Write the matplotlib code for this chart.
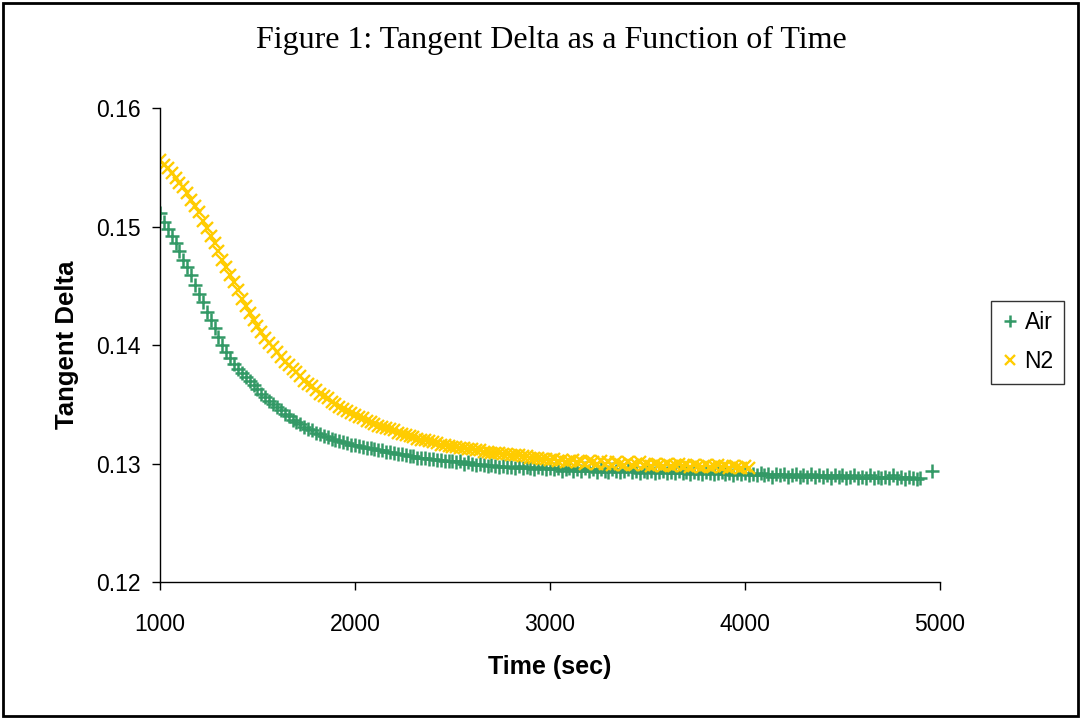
import matplotlib
matplotlib.use("Agg")
from matplotlib import pyplot as plt
from matplotlib.patches import Rectangle

air_time = [
    1000, 1020, 1040, 1060, 1080, 1100, 1120, 1140, 1160, 1180,
    1200, 1220, 1240, 1260, 1280, 1300, 1320, 1340, 1360, 1380,
    1400, 1420, 1440, 1460, 1480, 1500, 1520, 1540, 1560, 1580,
    1600, 1620, 1640, 1660, 1680, 1700, 1720, 1740, 1760, 1780,
    1800, 1820, 1840, 1860, 1880, 1900, 1920, 1940, 1960, 1980,
    2000, 2020, 2040, 2060, 2080, 2100, 2120, 2140, 2160, 2180,
    2200, 2220, 2240, 2260, 2280, 2300, 2320, 2340, 2360, 2380,
    2400, 2420, 2440, 2460, 2480, 2500, 2520, 2540, 2560, 2580,
    2600, 2620, 2640, 2660, 2680, 2700, 2720, 2740, 2760, 2780,
    2800, 2820, 2840, 2860, 2880, 2900, 2920, 2940, 2960, 2980,
    3000, 3020, 3040, 3060, 3080, 3100, 3120, 3140, 3160, 3180,
    3200, 3220, 3240, 3260, 3280, 3300, 3320, 3340, 3360, 3380,
    3400, 3420, 3440, 3460, 3480, 3500, 3520, 3540, 3560, 3580,
    3600, 3620, 3640, 3660, 3680, 3700, 3720, 3740, 3760, 3780,
    3800, 3820, 3840, 3860, 3880, 3900, 3920, 3940, 3960, 3980,
    4000, 4020, 4040, 4060, 4080, 4100, 4120, 4140, 4160, 4180,
    4200, 4220, 4240, 4260, 4280, 4300, 4320, 4340, 4360, 4380,
    4400, 4420, 4440, 4460, 4480, 4500, 4520, 4540, 4560, 4580,
    4600, 4620, 4640, 4660, 4680, 4700, 4720, 4740, 4760, 4780,
    4800, 4820, 4840, 4860, 4880, 4900, 4960,
]
air_tan_delta = [
    0.1511, 0.1504, 0.1498, 0.1492, 0.1486, 0.1479, 0.1472, 0.1466, 0.1459, 0.1451,
    0.1443, 0.1436, 0.1428, 0.1421, 0.1414, 0.1407, 0.1400, 0.1394, 0.1389, 0.1384,
    0.1380, 0.1376, 0.1373, 0.1370, 0.1366, 0.1363, 0.1359, 0.1356, 0.1353, 0.1350,
    0.1348, 0.1345, 0.1342, 0.1340, 0.1337, 0.1335, 0.1333, 0.1331, 0.1329, 0.1328,
    0.1326, 0.1325, 0.1323, 0.1322, 0.1321, 0.1320, 0.1319, 0.1318, 0.1317, 0.1316,
    0.1316, 0.1315, 0.1314, 0.1313, 0.1313, 0.1312, 0.1311, 0.1311, 0.1310, 0.1310,
    0.1309, 0.1308, 0.1308, 0.1307, 0.1306, 0.1306, 0.1305, 0.1305, 0.1305, 0.1304,
    0.1304, 0.1303, 0.1303, 0.1302, 0.1302, 0.1302, 0.1301, 0.1302, 0.1300, 0.1301,
    0.1300, 0.1299, 0.1300, 0.1299, 0.1298, 0.1299, 0.1298, 0.1297, 0.1298, 0.1297,
    0.1297, 0.1296, 0.1298, 0.1296, 0.1297, 0.1296, 0.1295, 0.1297, 0.1296, 0.1295,
    0.1296, 0.1295, 0.1296, 0.1294, 0.1295, 0.1296, 0.1294, 0.1295, 0.1294, 0.1296,
    0.1294, 0.1295, 0.1293, 0.1295, 0.1294, 0.1293, 0.1295, 0.1294, 0.1293, 0.1294,
    0.1295, 0.1293, 0.1294, 0.1292, 0.1294, 0.1293, 0.1294, 0.1292, 0.1293, 0.1294,
    0.1292, 0.1293, 0.1292, 0.1294, 0.1292, 0.1293, 0.1291, 0.1293, 0.1292, 0.1291,
    0.1293, 0.1292, 0.1291, 0.1292, 0.1293, 0.1291, 0.1292, 0.1290, 0.1292, 0.1291,
    0.1292, 0.1290, 0.1291, 0.1290, 0.1292, 0.1290, 0.1291, 0.1289, 0.1291, 0.1290,
    0.1291, 0.1289, 0.1290, 0.1291, 0.1289, 0.1290, 0.1289, 0.1291, 0.1289, 0.1290,
    0.1289, 0.1290, 0.1288, 0.1290, 0.1289, 0.1290, 0.1288, 0.1289, 0.1290, 0.1288,
    0.1289, 0.1288, 0.1290, 0.1288, 0.1289, 0.1288, 0.1289, 0.1288, 0.1290, 0.1288,
    0.1289, 0.1287, 0.1289, 0.1288, 0.1287, 0.1288, 0.1294,
]

n2_time = [
    1000, 1020, 1040, 1060, 1080, 1100, 1120, 1140, 1160, 1180,
    1200, 1220, 1240, 1260, 1280, 1300, 1320, 1340, 1360, 1380,
    1400, 1420, 1440, 1460, 1480, 1500, 1520, 1540, 1560, 1580,
    1600, 1620, 1640, 1660, 1680, 1700, 1720, 1740, 1760, 1780,
    1800, 1820, 1840, 1860, 1880, 1900, 1920, 1940, 1960, 1980,
    2000, 2020, 2040, 2060, 2080, 2100, 2120, 2140, 2160, 2180,
    2200, 2220, 2240, 2260, 2280, 2300, 2320, 2340, 2360, 2380,
    2400, 2420, 2440, 2460, 2480, 2500, 2520, 2540, 2560, 2580,
    2600, 2620, 2640, 2660, 2680, 2700, 2720, 2740, 2760, 2780,
    2800, 2820, 2840, 2860, 2880, 2900, 2920, 2940, 2960, 2980,
    3000, 3020, 3040, 3060, 3080, 3100, 3120, 3140, 3160, 3180,
    3200, 3220, 3240, 3260, 3280, 3300, 3320, 3340, 3360, 3380,
    3400, 3420, 3440, 3460, 3480, 3500, 3520, 3540, 3560, 3580,
    3600, 3620, 3640, 3660, 3680, 3700, 3720, 3740, 3760, 3780,
    3800, 3820, 3840, 3860, 3880, 3900, 3920, 3940, 3960, 3980,
    4000, 4020,
]
n2_tan_delta = [
    0.1556, 0.1552, 0.1549, 0.1545, 0.1541, 0.1537, 0.1533, 0.1528, 0.1522, 0.1517,
    0.1512, 0.1505, 0.1499, 0.1492, 0.1486, 0.1479, 0.1472, 0.1466, 0.1459, 0.1453,
    0.1446, 0.1439, 0.1433, 0.1427, 0.1421, 0.1416, 0.1411, 0.1406, 0.1402, 0.1398,
    0.1394, 0.1390, 0.1386, 0.1383, 0.1380, 0.1377, 0.1374, 0.1370, 0.1367, 0.1365,
    0.1362, 0.1359, 0.1357, 0.1355, 0.1352, 0.1350, 0.1348, 0.1346, 0.1344, 0.1343,
    0.1341, 0.1339, 0.1338, 0.1336, 0.1335, 0.1333, 0.1332, 0.1331, 0.1330, 0.1329,
    0.1328, 0.1326, 0.1325, 0.1324, 0.1323, 0.1322, 0.1321, 0.1320, 0.1320, 0.1319,
    0.1318, 0.1317, 0.1316, 0.1316, 0.1315, 0.1314, 0.1314, 0.1313, 0.1313, 0.1312,
    0.1312, 0.1311, 0.1311, 0.1310, 0.1310, 0.1309, 0.1309, 0.1309, 0.1308, 0.1308,
    0.1307, 0.1307, 0.1307, 0.1306, 0.1306, 0.1305, 0.1305, 0.1305, 0.1304, 0.1304,
    0.1303, 0.1304, 0.1302, 0.1303, 0.1301, 0.1302, 0.1303, 0.1301, 0.1302, 0.1300,
    0.1302, 0.1301, 0.1300, 0.1302, 0.1300, 0.1301, 0.1299, 0.1301, 0.1300, 0.1299,
    0.1301, 0.1299, 0.1300, 0.1301, 0.1299, 0.1300, 0.1298, 0.1300, 0.1299, 0.1298,
    0.1300, 0.1298, 0.1299, 0.1300, 0.1298, 0.1299, 0.1297, 0.1299, 0.1298, 0.1297,
    0.1299, 0.1297, 0.1298, 0.1299, 0.1297, 0.1298, 0.1296, 0.1298, 0.1297, 0.1296,
    0.1298, 0.1296,
]

x_ticks = [1000, 2000, 3000, 4000, 5000]
y_ticks = [0.12, 0.13, 0.14, 0.15, 0.16]
y_tick_labels = ["0.12", "0.13", "0.14", "0.15", "0.16"]

plt.rcParams["font.family"] = ["Liberation Sans", "DejaVu Sans"]

fig = plt.figure(figsize=(10.81, 7.19), dpi=100)
fig.patches.append(Rectangle((0.003, 0.004), 0.994, 0.992, transform=fig.transFigure,
                             fill=False, edgecolor="black", linewidth=2))

ax = fig.add_axes([0.148, 0.1905, 0.7215, 0.6593])
ax.plot(air_time, air_tan_delta, linestyle="none", marker="+", markersize=9.5,
        markeredgewidth=1.8, color="#339966", label="Air")
ax.plot(n2_time, n2_tan_delta, linestyle="none", marker="x", markersize=8.5,
        markeredgewidth=1.7, color="#FFCC00", label="N2")

ax.set_xlim(1000, 5000)
ax.set_ylim(0.12, 0.16)
ax.set_xticks(x_ticks)
ax.set_yticks(y_ticks)
ax.set_yticklabels(y_tick_labels)
ax.tick_params(direction="out", length=6, width=1, labelsize=16.5)
ax.tick_params(axis="y", pad=8)
ax.tick_params(axis="x", pad=16)
for side in ["top", "right"]:
    ax.spines[side].set_visible(False)
for side in ["left", "bottom"]:
    ax.spines[side].set_linewidth(1)

ax.set_xlabel("Time (sec)", fontsize=18, fontweight="bold", labelpad=14)
ax.set_ylabel("Tangent Delta", fontsize=18.5, fontweight="bold", labelpad=12)

fig.text(0.51, 0.943, "Figure 1: Tangent Delta as a Function of Time",
         family="Liberation Serif", fontsize=23, ha="center", va="center")

leg = ax.legend(loc="center left", bbox_to_anchor=(0.917, 0.524),
                bbox_transform=fig.transFigure, borderaxespad=0,
                fontsize=16.5, frameon=True, fancybox=False,
                handlelength=0.7, handletextpad=0.3, borderpad=0.45,
                labelspacing=0.7, markerscale=0.9)
leg.get_frame().set_edgecolor("black")
leg.get_frame().set_linewidth(1)

fig.savefig("out.png", dpi=100)
